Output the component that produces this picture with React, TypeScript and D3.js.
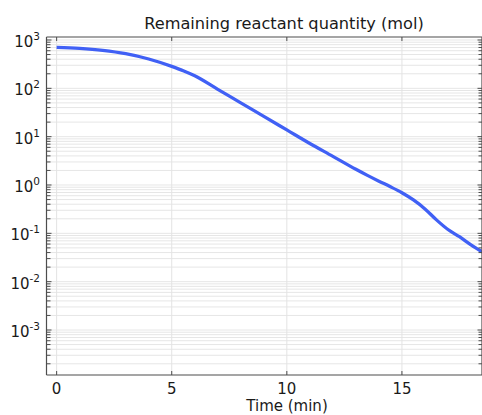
import React from "react";
import * as d3 from "d3";

const times = [0, 1, 2, 3, 4, 5, 5.5, 6, 7, 8, 9, 10, 11, 12, 13, 13.5, 14, 14.5, 15, 15.5, 16, 16.5, 17, 17.5, 18, 18.5];
const quantity = [706, 672, 612, 522, 405, 285, 232, 182, 95.5, 50, 26.3, 13.8, 7.24, 3.92, 2.11, 1.58, 1.2, 0.92, 0.69, 0.49, 0.32, 0.19, 0.12, 0.085, 0.058, 0.041];
const xTicks = [0, 5, 10, 15];
const yDecades = [-3, -2, -1, 0, 1, 2, 3];
const title = "Remaining reactant quantity (mol)";
const xLabel = "Time (min)";

const W = 482;
const H = 415;
const L = 46.5;
const R = 482.5;
const T = 37;
const B = 375;

export default function App() {
  const x = d3.scaleLinear().domain([-0.44, 18.5]).range([L, R]);
  const y = d3.scaleLog().domain([Math.pow(10, -3.931), Math.pow(10, 3.062)]).range([B, T]);

  const minor: number[] = [];
  for (let e = -4; e <= 3; e++) {
    for (let m = 1; m <= 9; m++) {
      const v = m * Math.pow(10, e);
      if (v >= y.domain()[0] && v <= y.domain()[1]) minor.push(v);
    }
  }

  const pts = times.map((t, i) => [t, quantity[i]] as [number, number]);
  const line = d3
    .line<[number, number]>()
    .x((d) => x(d[0]))
    .y((d) => y(d[1]))
    .curve(d3.curveMonotoneX);

  const font = "'DejaVu Sans', sans-serif";
  const axisColor = "#4d4d4d";

  return (
    <svg width={W} height={H} style={{ position: "absolute", left: 0, top: 0, background: "#fff" }} fontFamily={font}>
      <defs>
        <clipPath id="plotclip">
          <rect x={L} y={T} width={R - L} height={B - T} />
        </clipPath>
      </defs>
      {minor.map((v, i) => (
        <line key={"hg" + i} x1={L} x2={R} y1={y(v)} y2={y(v)} stroke="#e6e6e6" strokeWidth={1} />
      ))}
      {xTicks.map((t) => (
        <line key={"vg" + t} x1={x(t)} x2={x(t)} y1={T} y2={B} stroke="#e3e3e3" strokeWidth={1} />
      ))}
      <path d={line(pts) || ""} fill="none" stroke="#4060f5" strokeWidth={3.3} clipPath="url(#plotclip)" strokeLinejoin="round" />
      <line x1={L} x2={L} y1={T} y2={B} stroke={axisColor} strokeWidth={1.2} />
      <line x1={L} x2={R} y1={B} y2={B} stroke={axisColor} strokeWidth={1.2} />
      <line x1={L} x2={R} y1={T} y2={T} stroke={axisColor} strokeWidth={1.2} />
      <line x1={R - 0.5} x2={R - 0.5} y1={T} y2={B} stroke={axisColor} strokeWidth={1.2} />
      {minor.map((v, i) => {
        const isMajor = Math.abs(Math.log10(v) - Math.round(Math.log10(v))) < 1e-9;
        const len = isMajor ? 5 : 4;
        return (
          <g key={"yt" + i}>
            <line x1={L} x2={L + len} y1={y(v)} y2={y(v)} stroke={axisColor} strokeWidth={1} />
            <line x1={R} x2={R - len} y1={y(v)} y2={y(v)} stroke={axisColor} strokeWidth={1} />
          </g>
        );
      })}
      {xTicks.map((t) => (
        <g key={"xt" + t}>
          <line x1={x(t)} x2={x(t)} y1={B} y2={B - 4} stroke={axisColor} strokeWidth={1} />
          <line x1={x(t)} x2={x(t)} y1={T} y2={T + 4} stroke={axisColor} strokeWidth={1} />
          <text x={x(t)} y={394} textAnchor="middle" fontSize={15} fill="#1a1a1a">
            {t}
          </text>
        </g>
      ))}
      {yDecades.map((e) => (
        <text key={"yl" + e} x={40} y={y(Math.pow(10, e)) + 7} textAnchor="end" fontSize={15} fill="#1a1a1a">
          10
          <tspan dy={-7} fontSize={10.5}>
            {e < 0 ? "-" + Math.abs(e) : String(e)}
          </tspan>
        </text>
      ))}
      <text x={284} y={29} textAnchor="middle" fontSize={16.2} fill="#1a1a1a">
        {title}
      </text>
      <text x={287} y={411} textAnchor="middle" fontSize={15} fill="#1a1a1a">
        {xLabel}
      </text>
    </svg>
  );
}
